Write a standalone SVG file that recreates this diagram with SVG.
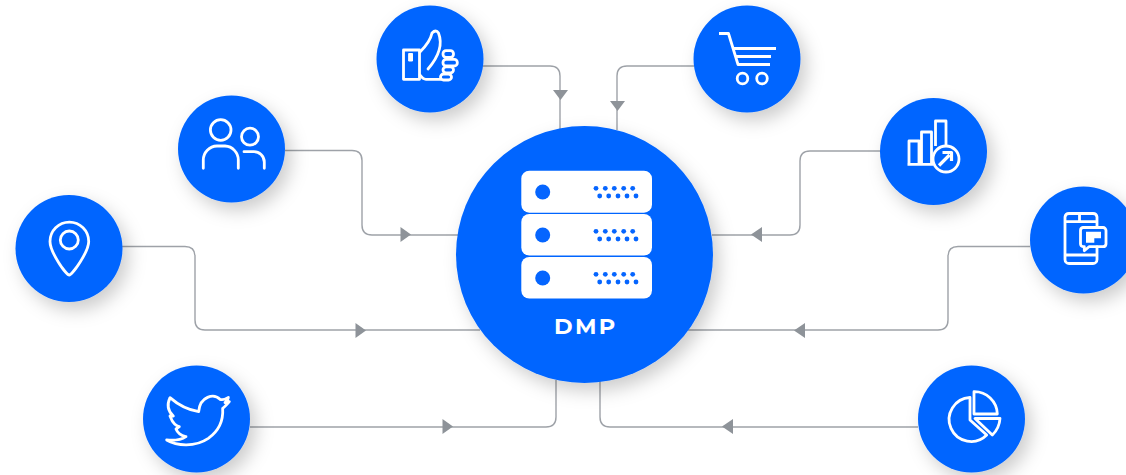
<svg xmlns="http://www.w3.org/2000/svg" width="1126" height="475" viewBox="0 0 1126 475">
<defs>
<filter id="sh" x="-40%" y="-40%" width="190%" height="190%"><feDropShadow dx="6" dy="8" stdDeviation="9" flood-color="#000" flood-opacity=".2"/></filter>
</defs>
<style>
.c{fill:#0565ff;filter:url(#sh)}
.l{fill:none;stroke:#9ea2a8;stroke-width:1.4}
.a{fill:#8e9399}
.i{fill:none;stroke:#fff;stroke-width:2.8;stroke-linejoin:round;stroke-linecap:round}
.w{fill:#fff}
.d{fill:#0565ff}
text{font-family:Montserrat,Inter,"Liberation Sans",sans-serif;font-weight:700;font-size:22.5px;letter-spacing:2.4px;fill:#fff}
</style>
<rect width="1126" height="475" fill="#fff"/>
<g id="connectors">
<path class="l" d="M483 66H550Q560 66 560 76V130"/>
<path class="l" d="M694 66H627Q617 66 617 76V130"/>
<path class="l" d="M285 150.500H352Q362 150.500 362 160.500V225Q362 235 372 235H458"/>
<path class="l" d="M880 151H810Q800 151 800 161V225Q800 235 790 235H712"/>
<path class="l" d="M122 246.500H185Q195 246.500 195 256.500V320Q195 330 205 330H480"/>
<path class="l" d="M1030 246.500H958Q948 246.500 948 256.500V320Q948 330 938 330H688"/>
<path class="l" d="M250 427H546Q556 427 556 417V380"/>
<path class="l" d="M918 427H610Q600 427 600 417V380"/>
<path class="a" d="M553 90H568L560.500 100Z"/>
<path class="a" d="M610 101H625L617.500 111Z"/>
<path class="a" d="M400.500 227V242L411 234.500Z"/>
<path class="a" d="M762 227V242L751 234.500Z"/>
<path class="a" d="M355.500 323V338L366 330.500Z"/>
<path class="a" d="M805 323V338L794 330.500Z"/>
<path class="a" d="M442.500 419V434L453 426.500Z"/>
<path class="a" d="M733 419V434L722 426.500Z"/>
</g>
<g id="node-like">
<circle class="c" cx="430" cy="59" r="53.500"/>
<g class="i">
<rect x="403.500" y="50" width="16" height="29.300"/>
<rect class="w" x="409" y="53.500" width="3.500" height="7.500" style="stroke-width:1"/>
<path d="M420 52C426 46 431 38 432 33Q436 29 438.500 33C442 42 441 54 428 69"/>
<path d="M420 75Q423 79.300 426 79.300H441"/>
<rect x="443" y="50.700" width="10.500" height="6.600" rx="3"/>
<rect x="443" y="59.300" width="14.300" height="6.700" rx="3"/>
<rect x="443" y="66.800" width="10.500" height="6" rx="3"/>
<rect x="440.500" y="74" width="11" height="6" rx="3"/>
</g>
</g>
<g id="node-cart">
<circle class="c" cx="747" cy="59" r="53.500"/>
<g class="i">
<path style="stroke-linecap:butt" d="M719 33.500H728.500L738 64.500H770M733 48.500H776M736 56.500H771"/>
<circle cx="742.500" cy="78.500" r="5.300"/>
<circle cx="762" cy="78.500" r="5.300"/>
</g>
</g>
<g id="node-people">
<circle class="c" cx="231.500" cy="149" r="53.500"/>
<g class="i">
<circle cx="220.700" cy="130" r="10.300"/>
<path d="M203.300 168.300V160A14 14 0 0 1 217 146H225A14 14 0 0 1 238.300 160V168.300"/>
<circle cx="250" cy="136.700" r="8.500"/>
<path d="M244 151.700H253.500A10.500 10.500 0 0 1 264.300 162V168.300"/>
</g>
</g>
<g id="node-chart">
<circle class="c" cx="933.500" cy="151.500" r="53.500"/>
<g class="i">
<path style="stroke-linecap:butt" d="M919 163.500V141H909V163.500M931.500 163.500V132H921.500V163.500M907.500 164.300H933M935.500 146V121H946V146"/>
<circle cx="946" cy="159" r="13"/>
<path style="stroke-width:3.200;stroke-linecap:butt" d="M939 165.500L949.500 155M942.500 152.500H951.500V161"/>
</g>
</g>
<g id="node-pin">
<circle class="c" cx="69" cy="248.500" r="53.500"/>
<g class="i">
<path d="M69.300 275C66 275 50 252 50 241.500A19.300 19.300 0 0 1 88.700 241.500C88.700 252 72 275 69.300 275Z"/>
<circle cx="69.300" cy="240" r="9"/>
</g>
</g>
<g id="node-phone">
<circle class="c" cx="1083.500" cy="240" r="53.500"/>
<g class="i">
<path d="M1097 227V217A4 4 0 0 0 1093 213.500H1069A4 4 0 0 0 1065 217V259.500A4 4 0 0 0 1069 263.500H1093A4 4 0 0 0 1097 259.500V247"/>
<path style="stroke-linecap:butt" d="M1065 221.700H1097M1079.500 213.500V221.700M1065 255H1097"/>
<path d="M1083 227.500H1103A3 3 0 0 1 1106 230.500V244A3 3 0 0 1 1103 246.700H1089L1084.300 250.700V246.700H1083A3 3 0 0 1 1080.500 244V230.500A3 3 0 0 1 1083 227.500Z"/>
</g>
<path class="w" d="M1086 231.700H1101V238.300H1094.300V242.700H1086Z"/>
</g>
<g id="node-twitter">
<circle class="c" cx="196.500" cy="419" r="53.500"/>
<path class="i" transform="translate(140 360) scale(.3333)" style="stroke-width:8.400" d="M265 112C255 118 250 122 240 118C222 100 180 108 176 155C145 150 115 135 90 113C80 135 85 155 100 168L90 168C100 195 110 197 118 200L108 207C115 225 130 228 138 230C120 242 100 242 80 240C110 258 165 262 205 235C240 210 250 175 248 145C255 140 262 132 268 125L255 128C262 122 265 118 265 112Z"/>
</g>
<g id="node-pie">
<circle class="c" cx="971.500" cy="419" r="53.500"/>
<g class="i">
<path d="M970 397.500V420L986.700 435A22 22 0 1 1 970 397.500Z"/>
<path d="M974 391.700V414H997.300A23 23 0 0 0 974 391.700Z"/>
<path d="M975 418.500H1000A25 25 0 0 1 992.300 435Z"/>
</g>
</g>
<g id="node-dmp">
<circle class="c" cx="584.500" cy="254.500" r="128.500"/>
<g id="server">
<rect class="w" x="521.300" y="170.700" width="130.700" height="42" rx="8"/>
<rect class="w" x="521.300" y="214" width="130.700" height="41.500" rx="8"/>
<rect class="w" x="521.300" y="257" width="130.700" height="41.500" rx="8"/>
<g class="d">
<circle cx="542.700" cy="192" r="7.500"/><circle cx="542.700" cy="235" r="7.500"/><circle cx="542.700" cy="278" r="7.500"/>
<g id="dots1">
<circle cx="596" cy="188.300" r="2.400"/><circle cx="605.300" cy="188.300" r="2.400"/><circle cx="614.300" cy="188.300" r="2.400"/><circle cx="623.700" cy="188.300" r="2.400"/><circle cx="632.700" cy="188.300" r="2.400"/>
<circle cx="599.700" cy="196" r="2.400"/><circle cx="608.700" cy="196" r="2.400"/><circle cx="618" cy="196" r="2.400"/><circle cx="627" cy="196" r="2.400"/><circle cx="636" cy="196" r="2.400"/>
</g>
<g id="dots2">
<circle cx="596" cy="231.300" r="2.400"/><circle cx="605.300" cy="231.300" r="2.400"/><circle cx="614.300" cy="231.300" r="2.400"/><circle cx="623.700" cy="231.300" r="2.400"/><circle cx="632.700" cy="231.300" r="2.400"/>
<circle cx="599.700" cy="239" r="2.400"/><circle cx="608.700" cy="239" r="2.400"/><circle cx="618" cy="239" r="2.400"/><circle cx="627" cy="239" r="2.400"/><circle cx="636" cy="239" r="2.400"/>
</g>
<g id="dots3">
<circle cx="596" cy="274.300" r="2.400"/><circle cx="605.300" cy="274.300" r="2.400"/><circle cx="614.300" cy="274.300" r="2.400"/><circle cx="623.700" cy="274.300" r="2.400"/><circle cx="632.700" cy="274.300" r="2.400"/>
<circle cx="599.700" cy="282" r="2.400"/><circle cx="608.700" cy="282" r="2.400"/><circle cx="618" cy="282" r="2.400"/><circle cx="627" cy="282" r="2.400"/><circle cx="636" cy="282" r="2.400"/>
</g>
</g>
</g>
<text x="554" y="334">DMP</text>
</g>
</svg>
